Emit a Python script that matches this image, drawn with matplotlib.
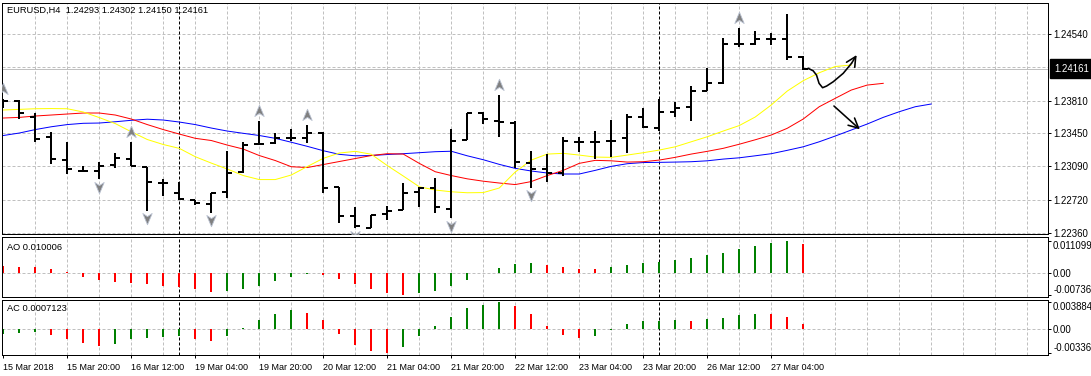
import matplotlib
matplotlib.use("Agg")
import matplotlib.pyplot as plt
import numpy as np
from matplotlib.collections import LineCollection
from matplotlib.path import Path
from matplotlib.transforms import offset_copy, blended_transform_factory

plt.rcParams['font.family'] = ['Liberation Sans', 'DejaVu Sans']
plt.rcParams['lines.scale_dashes'] = False

# ---- EURUSD H4 bars ----
opens = [1.23772, 1.23808, 1.23632, 1.23406, 1.23156, 1.23039, 1.23039, 1.23101, 1.23167, 1.23083,
         1.22907, 1.22797, 1.22717, 1.22673, 1.22808, 1.23028, 1.23332, 1.23346, 1.23395, 1.23395,
         1.23456, 1.22857, 1.22545, 1.22413, 1.22563, 1.22607, 1.22802, 1.22846, 1.22618, 1.23376,
         1.23676, 1.23588, 1.23560, 1.23127, 1.23054, 1.23010, 1.23357, 1.23357, 1.23368, 1.23395,
         1.23625, 1.23511, 1.23687, 1.23735, 1.23918, 1.24006, 1.24427, 1.24427, 1.24482, 1.24486,
         1.24293]
highs = [1.23823, 1.23812, 1.23669, 1.23467, 1.23357, 1.23090, 1.23138, 1.23237, 1.23357, 1.23083,
         1.22944, 1.22918, 1.22720, 1.22797, 1.23255, 1.23357, 1.23585, 1.23450, 1.23494, 1.23541,
         1.23460, 1.22860, 1.22637, 1.22552, 1.22654, 1.22900, 1.22863, 1.22955, 1.23494, 1.23676,
         1.23680, 1.23870, 1.23585, 1.23255, 1.23219, 1.23406, 1.23406, 1.23478, 1.23596, 1.23662,
         1.23724, 1.23823, 1.23797, 1.23973, 1.24164, 1.24493, 1.24603, 1.24574, 1.24548, 1.24757,
         1.24302]
lows = [1.23728, 1.23603, 1.23357, 1.23109, 1.22999, 1.23025, 1.22944, 1.23065, 1.23090, 1.22600,
        1.22761, 1.22717, 1.22662, 1.22578, 1.22736, 1.23010, 1.23332, 1.23332, 1.23368, 1.23340,
        1.22797, 1.22461, 1.22406, 1.22410, 1.22497, 1.22605, 1.22643, 1.22571, 1.22516, 1.23376,
        1.23549, 1.23412, 1.23065, 1.22852, 1.22918, 1.22984, 1.23248, 1.23164, 1.23193, 1.23230,
        1.23511, 1.23475, 1.23632, 1.23588, 1.23918, 1.23991, 1.24401, 1.24420, 1.24420, 1.24255,
        1.24150]
closes = [1.23808, 1.23669, 1.23387, 1.23164, 1.23054, 1.23039, 1.23090, 1.23175, 1.23090, 1.22918,
          1.22907, 1.22725, 1.22681, 1.22797, 1.23017, 1.23321, 1.23332, 1.23395, 1.23395, 1.23456,
          1.22846, 1.22545, 1.22431, 1.22552, 1.22600, 1.22791, 1.22852, 1.22637, 1.23368, 1.23669,
          1.23603, 1.23571, 1.23138, 1.23054, 1.23017, 1.23365, 1.23357, 1.23357, 1.23368, 1.23625,
          1.23522, 1.23687, 1.23724, 1.23918, 1.24006, 1.24427, 1.24427, 1.24482, 1.24482, 1.24293,
          1.24161]

# alligator lines (yellow lips, red teeth, blue jaw), shifted past the last bar
lips = [1.23706, 1.23713, 1.23720, 1.23722, 1.23720, 1.23684, 1.23623, 1.23557, 1.23467, 1.23382,
        1.23327, 1.23285, 1.23193, 1.23123, 1.23058, 1.22986, 1.22942, 1.22942, 1.22992, 1.23085,
        1.23175, 1.23233, 1.23252, 1.23220, 1.23096, 1.22981, 1.22863, 1.22827, 1.22808, 1.22797,
        1.22799, 1.22849, 1.23025, 1.23156, 1.23222, 1.23230, 1.23211, 1.23189, 1.23186, 1.23211,
        1.23237, 1.23266, 1.23302, 1.23357, 1.23412, 1.23475, 1.23535, 1.23629, 1.23761, 1.23914,
        1.24028, 1.24115, 1.24184, 1.24200]
teeth = [1.23618, 1.23625, 1.23640, 1.23651, 1.23662, 1.23673, 1.23673, 1.23651, 1.23607, 1.23546,
         1.23491, 1.23442, 1.23395, 1.23371, 1.23321, 1.23277, 1.23206, 1.23151, 1.23083, 1.23074,
         1.23107, 1.23140, 1.23173, 1.23206, 1.23226, 1.23222, 1.23120, 1.23028, 1.22986, 1.22950,
         1.22924, 1.22904, 1.22887, 1.22920, 1.22986, 1.23043, 1.23120, 1.23153, 1.23148, 1.23134,
         1.23138, 1.23156, 1.23186, 1.23222, 1.23252, 1.23285, 1.23330, 1.23379, 1.23431, 1.23505,
         1.23607, 1.23742, 1.23834, 1.23925, 1.23980, 1.23999]
jaw = [1.23426, 1.23453, 1.23491, 1.23522, 1.23546, 1.23560, 1.23563, 1.23577, 1.23593, 1.23605,
       1.23596, 1.23574, 1.23546, 1.23508, 1.23475, 1.23450, 1.23426, 1.23395, 1.23352, 1.23307,
       1.23259, 1.23219, 1.23203, 1.23206, 1.23217, 1.23226, 1.23237, 1.23248, 1.23253, 1.23203,
       1.23160, 1.23109, 1.23065, 1.23036, 1.23014, 1.23003, 1.23003, 1.23043, 1.23087, 1.23116,
       1.23129, 1.23131, 1.23134, 1.23138, 1.23148, 1.23167, 1.23181, 1.23203, 1.23226, 1.23263,
       1.23302, 1.23357, 1.23420, 1.23486, 1.23552, 1.23625, 1.23687, 1.23742, 1.23772]

fractal_up = [0, 8, 16, 19, 31, 46]
fractal_down = [6, 9, 13, 22, 28, 33]

ao = [0.00240, 0.00232, 0.00226, 0.00160, 0.00057, -0.00126, -0.00228, -0.00297, -0.00331, -0.00365,
      -0.00434, -0.00468, -0.00537, -0.00628, -0.00605, -0.00525, -0.00434, -0.00251, -0.00126, -0.00023,
      -0.00057, -0.00194, -0.00365, -0.00525, -0.00674, -0.007363, -0.00662, -0.00594, -0.00434, -0.00217,
      0.00010, 0.00183, 0.00320, 0.00354, 0.00285, 0.00217, 0.00148, 0.00137, 0.00217, 0.00285,
      0.00354, 0.00388, 0.00457, 0.00525, 0.00628, 0.00696, 0.00833, 0.00936, 0.01039, 0.011099,
      0.010006]
ao_dir = "RRRRRRRRRRRRRRGGGGGGRRRRRRGGGGGGGGRRRRGGGGGGGGGGGGR"
ac = [-0.00062, -0.00048, -0.00033, -0.00077, -0.00134, -0.00192, -0.00241, -0.00207, -0.00134, -0.00120,
      -0.00106, -0.00091, -0.00134, -0.00163, -0.00091, 0.00019, 0.00134, 0.00221, 0.00279, 0.00231,
      0.00134, -0.00062, -0.00221, -0.00308, -0.003369, -0.00250, -0.00091, 0.00048, 0.00178, 0.00308,
      0.00351, 0.003884, 0.00337, 0.00221, 0.00048, -0.00082, -0.00125, -0.00096, -0.00010, 0.00077,
      0.00120, 0.00125, 0.00135, 0.00120, 0.00149, 0.00164, 0.00207, 0.00221, 0.00216, 0.00178,
      0.0007123]
ac_dir = "GGGRRRRGGGGGRRGGGGGRRRRRRGGGGGGGRRRRRGGGGGGRGGGGRRR"

price_ticks = [1.24540, 1.23810, 1.23450, 1.23090, 1.22720, 1.22360]
price_grid = [1.24540, 1.24180, 1.23810, 1.23450, 1.23090, 1.22720, 1.22360]
bid = 1.24161
ao_ticks = [0.011099, 0.0, -0.007363]
ao_labels = ["0.011099", "0.00", "-0.007363"]
ac_ticks = [0.003884, 0.0, -0.003369]
ac_labels = ["0.003884", "0.00", "-0.003369"]
date_bars = [0, 4, 8, 12, 16, 20, 24, 28, 32, 36, 40, 44, 48]
date_labels = ["15 Mar 2018", "15 Mar 20:00", "16 Mar 12:00", "19 Mar 04:00", "19 Mar 20:00",
               "20 Mar 12:00", "21 Mar 04:00", "21 Mar 20:00", "22 Mar 12:00", "23 Mar 04:00",
               "23 Mar 20:00", "26 Mar 12:00", "27 Mar 04:00"]
week_breaks = [11, 41]

# hand-drawn arrows on the chart (bar index, price)
curve_x = [50.31, 50.62, 50.83, 50.99, 51.21, 51.46, 51.88, 52.50, 53.02, 53.34]
curve_y = [1.24164, 1.24137, 1.24090, 1.23999, 1.23951, 1.23969, 1.24017, 1.24109, 1.24219, 1.24310]
straight_x = [51.92, 53.54]
straight_y = [1.23750, 1.23494]

W, H = 1091, 376
PX = 0.72  # one pixel in points at dpi 100
fig = plt.figure(figsize=(W / 100, H / 100), dpi=100)


def px_axes(x0, y0, x1, y1):
    return fig.add_axes([x0 / W, 1 - y1 / H, (x1 - x0) / W, (y1 - y0) / H])


ax = px_axes(2, 2.5, 1048, 234)
ao_ax = px_axes(2, 237, 1048, 297)
ac_ax = px_axes(2, 299.5, 1048, 355)

grid_kw = dict(color="#c0c0c0", lw=PX, dashes=(3 * PX, 2 * PX), zorder=0)
sep_kw = dict(color="black", lw=PX, dashes=(3 * PX, 2 * PX), zorder=1)
ytick_size = 6.9
xtick_size = 6.5

for a in (ax, ao_ax, ac_ax):
    a.set_xlim(-0.08, 65.3)
    for s in a.spines.values():
        s.set_linewidth(PX)
        s.set_color("black")
    for gx in range(2, 66, 2):
        a.axvline(gx, **grid_kw)
    for wb in week_breaks:
        a.axvline(wb, **sep_kw)
    a.yaxis.tick_right()
    a.tick_params(axis="y", direction="out", length=3 * PX, width=PX, pad=1.5,
                  labelsize=ytick_size, colors="black")
    a.tick_params(axis="x", bottom=False, labelbottom=False)

# ---- main price panel ----
ax.set_ylim(1.22344, 1.24887)
for g in price_grid:
    ax.axhline(g, **grid_kw)
ax.axhline(bid, color="#c0c0c0", lw=PX, zorder=0.5)
ax.set_yticks(price_ticks)
ax.set_yticklabels(["%.5f" % t for t in price_ticks])

ax.plot(range(len(jaw)), jaw, color="#0000ff", lw=PX, zorder=2)
ax.plot(range(len(teeth)), teeth, color="#ff0000", lw=PX, zorder=2)
ax.plot(range(len(lips)), lips, color="#ffff00", lw=PX, zorder=2)

segs = []
tick_len = 0.3
for i, (o, h, l, c) in enumerate(zip(opens, highs, lows, closes)):
    segs.append([(i, l), (i, h)])
    segs.append([(i - tick_len, o), (i, o)])
    segs.append([(i, c), (i + tick_len, c)])
ax.add_collection(LineCollection(segs, colors="black", linewidths=2 * PX,
                                 capstyle="butt", zorder=3))

up_marker = Path([(0, 1), (0.75, -0.8), (0, -0.3), (-0.75, -0.8), (0, 1)],
                 [Path.MOVETO, Path.LINETO, Path.LINETO, Path.LINETO, Path.CLOSEPOLY])
down_marker = Path([(0, -1), (0.75, 0.8), (0, 0.3), (-0.75, 0.8), (0, -1)],
                   [Path.MOVETO, Path.LINETO, Path.LINETO, Path.LINETO, Path.CLOSEPOLY])
up_tr = offset_copy(ax.transData, fig=fig, x=0, y=10, units="dots")
down_tr = offset_copy(ax.transData, fig=fig, x=0, y=-7.5, units="dots")
ax.plot(fractal_up, [highs[i] for i in fractal_up], ls="none", marker=up_marker,
        ms=9, mfc="#808080", mec="#b8c0d0", mew=0.6, transform=up_tr, zorder=4)
ax.plot(fractal_down, [lows[i] for i in fractal_down], ls="none", marker=down_marker,
        ms=9, mfc="#808080", mec="#b8c0d0", mew=0.6, transform=down_tr, zorder=4)

ax.plot(curve_x[:-1], curve_y[:-1], color="black", lw=1.6 * PX, zorder=5,
        solid_capstyle="round")
ax.annotate("", xy=(curve_x[-1], curve_y[-1]), xytext=(curve_x[-2], curve_y[-2]),
            arrowprops=dict(arrowstyle="->,head_length=0.7,head_width=0.35",
                            color="black", lw=1.6 * PX, shrinkA=0, shrinkB=0,
                            mutation_scale=10), zorder=5)
ax.annotate("", xy=(straight_x[1], straight_y[1]), xytext=(straight_x[0], straight_y[0]),
            arrowprops=dict(arrowstyle="->,head_length=0.7,head_width=0.35",
                            color="black", lw=1.6 * PX, shrinkA=0, shrinkB=0,
                            mutation_scale=10), zorder=5)

ax.text(5 / 1046, 1 - 8 / 231.5, "EURUSD,H4  %.5f %.5f %.5f %.5f" % (opens[-1], highs[-1], lows[-1], closes[-1]),
        transform=ax.transAxes, fontsize=6.7, ha="left", va="center", color="black")

bid_tr = offset_copy(blended_transform_factory(ax.transAxes, ax.transData), fig=fig,
                     x=6, y=0, units="dots")
ax.text(1, bid, "%.5f" % bid, transform=bid_tr, ha="left", va="center", color="white",
        fontsize=ytick_size, clip_on=False,
        bbox=dict(boxstyle="square,pad=0.45", fc="black", ec="black"))

# ---- Awesome Oscillator ----
green, red = "#008000", "#ff0000"
x = np.arange(len(ao))
ao_ax.set_ylim(-0.008116, 0.012432)
ao_ax.axhline(0, **grid_kw)
ao_ax.bar(x, ao, width=0.14, color=[green if d == "G" else red for d in ao_dir],
          linewidth=0, zorder=2)
ao_ax.set_yticks(ao_ticks)
ao_ax.set_yticklabels(ao_labels)
ao_ax.text(5 / 1046, 1 - 10 / 60, "AO %.6f" % ao[-1], transform=ao_ax.transAxes,
           fontsize=6.7, ha="left", va="center")

# ---- Accelerator Oscillator ----
ac_ax.set_ylim(-0.003716, 0.004308)
ac_ax.axhline(0, **grid_kw)
ac_ax.bar(x, ac, width=0.14, color=[green if d == "G" else red for d in ac_dir],
          linewidth=0, zorder=2)
ac_ax.set_yticks(ac_ticks)
ac_ax.set_yticklabels(ac_labels)
ac_ax.text(5 / 1046, 1 - 9 / 55.5, "AC %.7f" % ac[-1], transform=ac_ax.transAxes,
           fontsize=6.7, ha="left", va="center")

# keep the max/min labels inside their panels, as the terminal does
for a in (ao_ax, ac_ax):
    labs = a.get_yticklabels()
    labs[0].set_va("top")
    labs[2].set_va("bottom")

ac_ax.tick_params(axis="x", bottom=True, labelbottom=True, direction="out",
                  length=3 * PX, width=PX, pad=3.5, labelsize=xtick_size)
ac_ax.set_xticks(date_bars)
ac_ax.set_xticklabels(date_labels, ha="left")

fig.savefig("out.png", dpi=100, facecolor="white")
